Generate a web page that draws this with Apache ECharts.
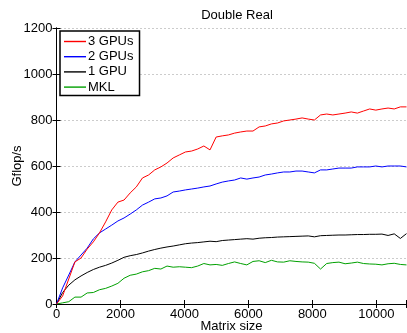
<!DOCTYPE html>
<html>
<head>
<meta charset="utf-8">
<script src="https://cdn.jsdelivr.net/npm/echarts@6/dist/echarts.min.js"></script>
<style>
html,body{margin:0;padding:0;background:#fff;}
#c{width:407px;height:333px;}
</style>
</head>
<body>
<div id="c"></div>
<script>
const matrixSize = [0,192,384,576,768,960,1152,1344,1536,1728,1920,2112,2304,2496,2688,2880,3072,3264,3456,3648,3840,4032,4224,4416,4608,4800,4992,5184,5376,5568,5760,5952,6144,6336,6528,6720,6912,7104,7296,7488,7680,7872,8064,8256,8448,8640,8832,9024,9216,9408,9600,9792,9984,10176,10368,10560,10752,10944];

const gpu3 = [0,35,109,183,200,239,270,309,357,409,443,452,483,509,548,561,583,596,613,635,648,661,665,674,687,670,726,731,735,743,748,752,752,770,774,783,787,796,800,804,809,804,800,822,826,822,826,830,835,830,839,848,843,848,852,848,857,857];

const gpu2 = [0,70,126,183,213,243,283,309,326,343,361,374,391,409,430,443,457,461,470,487,491,496,500,504,509,513,522,530,535,539,548,543,548,552,561,565,570,574,574,578,578,574,570,583,583,587,591,591,591,596,596,596,600,596,600,600,600,596];

const gpu1 = [0,50,82,105,122,137,150,160,168,178,190,203,210,215,222,230,237,243,248,252,257,262,265,267,270,273,271,276,278,280,282,284,282,286,288,289,291,292,293,294,295,296,292,297,298,299,300,300,301,302,302,303,303,304,298,305,285,306];

const mkl = [0,5,10,30,30,48,50,62,68,78,90,112,125,130,140,145,155,152,165,160,162,160,158,165,176,170,172,168,176,183,176,170,185,188,180,190,183,182,188,185,183,182,177,152,176,180,182,175,178,182,176,174,173,170,175,177,172,170];

const seriesNames = ['3 GPUs','2 GPUs','1 GPU','MKL'];
const seriesColors = ['#ff0000','#0000ff','#000000','#00a000'];
const seriesValues = [gpu3, gpu2, gpu1, mkl];

const xTicks = [0,2000,4000,6000,8000,10000];
const yTicks = [0,200,400,600,800,1000,1200];

const FONT = 'Liberation Sans, Arial, Helvetica, sans-serif';

const chart = echarts.init(document.getElementById('c'), null, {renderer:'canvas'});

const axisLineStyle = {lineStyle:{color:'#000', width:1}};

const option = {
  animation:false,
  backgroundColor:'#fff',
  title:{
    text:'Double Real', left:232, top:4, textAlign:'center',
    textStyle:{fontSize:13, fontWeight:'normal', color:'#000', fontFamily:FONT}
  },
  grid:{left:56.5, right:0.5, top:28, bottom:29, containLabel:false, outerBoundsMode:'none'},
  legend:{
    data:seriesNames.map(function(n,k){
      return {name:n, itemStyle:{color:seriesColors[k], borderWidth:0, opacity:1}};
    }),
    orient:'vertical',
    left:60, top:31,
    icon:'rect',
    backgroundColor:'#fff',
    borderColor:'#000', borderWidth:1.5, borderRadius:0,
    padding:[4,6,2,4],
    itemWidth:22, itemHeight:1.4, itemGap:2.2,
    itemStyle:{borderWidth:0},
    textStyle:{fontSize:13, color:'#000', fontFamily:FONT, padding:[0,0,0,-3]}
  },
  xAxis:[
    {
      type:'value', min:0, max:matrixSize[matrixSize.length-1], interval:2000, position:'bottom',
      name:'Matrix size', nameLocation:'middle', nameGap:16, nameMoveOverlap:false,
      nameTextStyle:{fontSize:13, color:'#000', fontFamily:FONT},
      axisLine:axisLineStyle,
      axisTick:{inside:true, length:4, lineStyle:{color:'#000'}},
      axisLabel:{margin:4, fontSize:13, color:'#000', fontFamily:FONT,
        formatter:function(v){return xTicks.indexOf(v)>=0 ? String(v) : '';}},
      splitLine:{show:false}
    },
    {
      type:'value', min:0, max:matrixSize[matrixSize.length-1], interval:2000, position:'top',
      axisLine:axisLineStyle,
      axisTick:{inside:true, length:4, lineStyle:{color:'#000'}},
      axisLabel:{show:false}, splitLine:{show:false}
    }
  ],
  yAxis:[
    {
      type:'value', min:0, max:1200, interval:200, position:'left',
      name:'Gflop/s', nameLocation:'middle', nameGap:33, nameRotate:90, nameMoveOverlap:false,
      nameTextStyle:{fontSize:13, color:'#000', fontFamily:FONT},
      axisLine:axisLineStyle,
      axisTick:{inside:true, length:4, lineStyle:{color:'#000'}},
      axisLabel:{margin:4, fontSize:13, color:'#000', fontFamily:FONT,
        formatter:function(v){return yTicks.indexOf(v)>=0 ? String(v) : '';}},
      splitLine:{show:true, lineStyle:{color:'#999', type:[1,3], width:1}}
    },
    {
      type:'value', min:0, max:1200, interval:200, position:'right',
      axisLine:axisLineStyle,
      axisTick:{inside:true, length:4, lineStyle:{color:'#000'}},
      axisLabel:{show:false}, splitLine:{show:false}
    }
  ],
  series: seriesNames.map(function(name, k){
    return {
      name:name, type:'line', xAxisIndex:0, yAxisIndex:0,
      symbol:'none', smooth:false,
      lineStyle:{color:seriesColors[k], width:1},
      itemStyle:{color:seriesColors[k]},
      data: matrixSize.map(function(x,i){return [x, seriesValues[k][i]];}),
      z: 10 - k
    };
  })
};
chart.setOption(option);
</script>
</body>
</html>
